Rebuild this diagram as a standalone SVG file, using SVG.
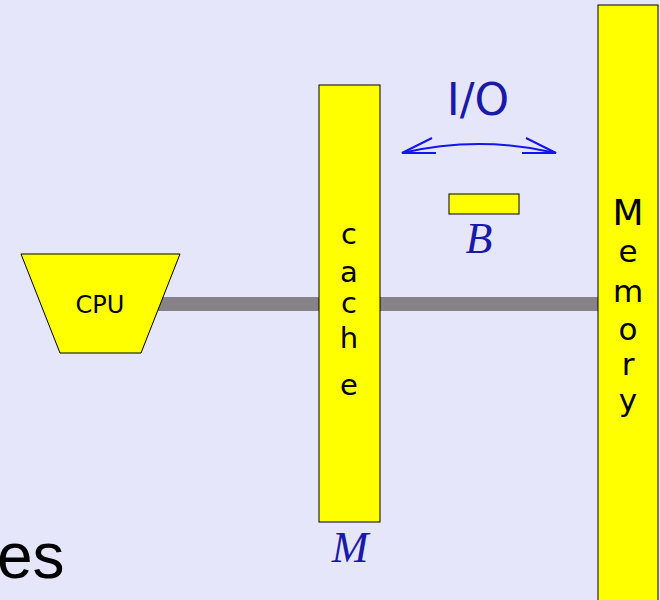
<svg xmlns="http://www.w3.org/2000/svg" width="660" height="600" viewBox="0 0 660 600">
<defs>
<style>
.box{fill:#ffff00;stroke:#000;stroke-width:1}
.lbl{font-family:"DejaVu Sans","Liberation Sans",sans-serif;fill:#000;text-anchor:middle}
.math{font-family:"Liberation Serif","DejaVu Serif",serif;font-style:italic;fill:#1a1aa8;text-anchor:middle}
</style>
</defs>
<rect width="660" height="600" fill="#e6e6fb"/>
<g id="connectors">
<rect x="158" y="297" width="441" height="14" fill="#878287"/>
<path d="M402,153 Q479,135 556,153" fill="none" stroke="#1414f0" stroke-width="2"/>
<path d="M432,138 L402,153 L436,153" fill="none" stroke="#1414f0" stroke-width="2"/>
<path d="M526,138 L556,153 L522,153" fill="none" stroke="#1414f0" stroke-width="2"/>
</g>
<g id="cpu">
<polygon class="box" points="21,254 180,254 141,353 60,353"/>
<text class="lbl" x="100" y="313" font-size="24">CPU</text>
</g>
<g id="cache">
<rect class="box" x="319" y="85" width="61" height="437"/>
<text class="lbl" font-size="29"><tspan x="349" y="244">c</tspan><tspan x="349" y="282">a</tspan><tspan x="349" y="313">c</tspan><tspan x="349" y="348">h</tspan><tspan x="349" y="395">e</tspan></text>
<text class="math" x="350" y="562" font-size="44">M</text>
</g>
<g id="memory">
<rect class="box" x="598" y="5" width="60" height="600"/>
<text class="lbl" font-size="31"><tspan x="628" y="225" font-size="36">M</tspan><tspan x="628" y="262">e</tspan><tspan x="628" y="302">m</tspan><tspan x="628" y="340">o</tspan><tspan x="628" y="375">r</tspan><tspan x="628" y="411">y</tspan></text>
</g>
<g id="block">
<rect class="box" x="449" y="194" width="70" height="20"/>
<text class="math" x="479" y="253" font-size="44">B</text>
</g>
<text x="478" y="115" font-family="DejaVu Sans,Liberation Sans,sans-serif" font-size="44" fill="#1a1aa8" text-anchor="middle">I/O</text>
<text x="-3" y="578" font-family="Liberation Sans,Arial,sans-serif" font-size="64" fill="#000">es</text>
</svg>
